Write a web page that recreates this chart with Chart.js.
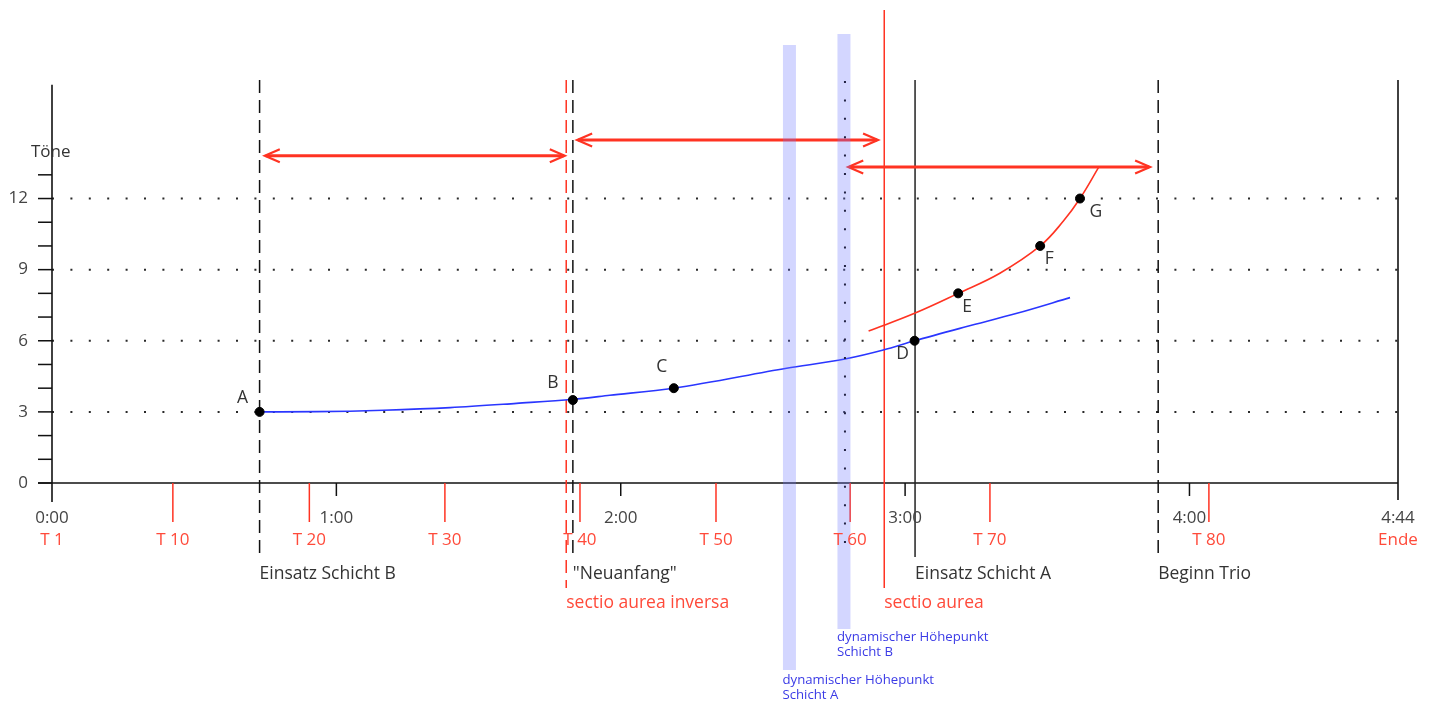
<!DOCTYPE html>
<html>
<head>
<meta charset="utf-8">
<script src="https://cdn.jsdelivr.net/npm/chart.js@4/dist/chart.umd.min.js"></script>
<style>
html,body{margin:0;padding:0;background:#fff;}
#wrap{width:1435px;height:705px;position:relative;}
</style>
</head>
<body>
<div id="wrap"><canvas id="c"></canvas></div>
<script>
// ---- data (seconds on x, Töne on y) ----
const timeTicks = [0, 60, 120, 180, 240, 284];
const timeLabels = ['0:00', '1:00', '2:00', '3:00', '4:00', '4:44'];
const barTicks = [0, 25.5, 54.3, 82.9, 111.4, 140.1, 168.4, 197.9, 244.1, 284];
const barLabels = ['T 1', 'T 10', 'T 20', 'T 30', 'T 40', 'T 50', 'T 60', 'T 70', 'T 80', 'Ende'];
const toneTickLabels = [0, 3, 6, 9, 12];
const toneMinorTicks = [0, 1, 2, 3, 4, 5, 6, 7, 8, 9, 10, 11, 12, 13];

const pointNames = ['A', 'B', 'C', 'D', 'E', 'F', 'G'];
const pointTimes = [43.8, 109.9, 131.2, 182.0, 191.2, 208.5, 216.9];
const pointTones = [3, 3.5, 4, 6, 8, 10, 12];

const blueTimes = [43.8, 55.9, 69.9, 84, 98, 109.9, 117.7, 131.2, 155, 167.3, 175.4, 182.0, 193, 203.6, 214.8];
const blueTones = [3, 3.01, 3.07, 3.18, 3.36, 3.53, 3.7, 4.0, 4.84, 5.23, 5.61, 6.0, 6.6, 7.16, 7.82];

const redTimes = [172.3, 182.0, 191.2, 200, 208.5, 213.4, 216.9, 220.8];
const redTones = [6.41, 7.16, 8.0, 8.85, 10.0, 11.05, 12.0, 13.3];

const eventTimes = [43.8, 109.9, 182.1, 233.4];
const eventLabels = ['Einsatz Schicht B', '"Neuanfang"', 'Einsatz Schicht A', 'Beginn Trio'];
const sectioTimes = [108.5, 175.6];
const sectioLabels = ['sectio aurea inversa', 'sectio aurea'];
const peakTimes = [155.6, 167.1];
const peakLabels = [['dynamischer Höhepunkt', 'Schicht A'], ['dynamischer Höhepunkt', 'Schicht B']];

const arrowFrom = [44.9, 110.8, 168.0];
const arrowTo = [108.2, 174.3, 231.7];
const arrowTones = [13.8, 14.47, 13.33];

const gridTones = [3, 6, 9, 12];

// ---- colours ----
const RED = '#ff3322';
const RED_TXT = '#ff4a3a';
const BLUE = '#2a36ff';
const BLUE_TXT = '#3b3be6';
const GRAY = '#333333';
const FONT = '"Open Sans", "DejaVu Sans", sans-serif';

function pts(xs, ys) { return xs.map((v, i) => ({ x: v, y: ys[i] })); }

function line(ctx, x1, y1, x2, y2, color, w, dash) {
  ctx.save();
  ctx.strokeStyle = color; ctx.lineWidth = w;
  ctx.setLineDash(dash || []);
  ctx.beginPath(); ctx.moveTo(x1, y1); ctx.lineTo(x2, y2); ctx.stroke();
  ctx.restore();
}
function text(ctx, s, x, y, color, size, align) {
  ctx.save();
  ctx.fillStyle = color;
  ctx.font = size + 'px ' + FONT;
  ctx.textAlign = align || 'left';
  ctx.textBaseline = 'middle';
  ctx.fillText(s, x, y);
  ctx.restore();
}
function arrowHead(ctx, tipX, y, dir) {
  ctx.save();
  ctx.strokeStyle = RED; ctx.lineWidth = 2.2; ctx.lineJoin = 'miter';
  ctx.beginPath();
  ctx.moveTo(tipX - dir * 15, y - 6.5);
  ctx.lineTo(tipX, y);
  ctx.lineTo(tipX - dir * 15, y + 6.5);
  ctx.stroke();
  ctx.restore();
}

const decor = {
  id: 'decor',
  beforeDatasetsDraw(chart) {
    const { ctx, scales: { x, y } } = chart;
    const X = v => x.getPixelForValue(v), Y = v => y.getPixelForValue(v);
    const y0 = Y(0), top = Y(17);

    gridTones.forEach(v => line(ctx, X(0), Y(v), X(284), Y(v), '#2a2a2a', 2, [2, 16.4]));

    toneMinorTicks.forEach(v => line(ctx, X(0) - 14, Y(v), X(0), Y(v), '#111', 1.5));
    line(ctx, X(0) - 14, y0, X(284), y0, '#111', 1.6);
    line(ctx, X(0), Y(16.8), X(0), y0 + 19, '#111', 1.6);
    line(ctx, X(284), top, X(284), y0 + 17, '#111', 1.6);

    timeTicks.slice(1, -1).forEach(t => line(ctx, X(t), y0, X(t), y0 + 13, '#111', 1.5));
    barTicks.slice(1, -1).forEach(t => line(ctx, X(t), y0, X(t), y0 + 39, RED, 1.5));

    line(ctx, X(eventTimes[0]), top, X(eventTimes[0]), 555, '#111', 1.5, [13, 7]);
    line(ctx, X(eventTimes[1]), top, X(eventTimes[1]), 555, '#111', 1.5, [13, 7]);
    line(ctx, X(eventTimes[2]), top, X(eventTimes[2]), 557, '#222', 1.5);
    line(ctx, X(eventTimes[3]), top, X(eventTimes[3]), 557, '#111', 1.5, [13, 7]);
    line(ctx, X(sectioTimes[0]), top, X(sectioTimes[0]), 588, RED, 1.5, [13, 7]);
    line(ctx, X(sectioTimes[1]), top - 70, X(sectioTimes[1]), 588, RED, 1.5);
  },
  afterDatasetsDraw(chart) {
    const { ctx, scales: { x, y } } = chart;
    const X = v => x.getPixelForValue(v), Y = v => y.getPixelForValue(v);
    const top = Y(17);

    arrowFrom.forEach((t, i) => {
      const a = X(t), b = X(arrowTo[i]), yy = Y(arrowTones[i]);
      line(ctx, a + 1, yy, b - 1, yy, RED, 3);
      arrowHead(ctx, a, yy, -1);
      arrowHead(ctx, b, yy, 1);
    });

    ctx.save();
    ctx.fillStyle = 'rgba(110,120,255,0.3)';
    ctx.fillRect(X(peakTimes[0]) - 6.5, 45, 13, 625);
    ctx.fillRect(X(peakTimes[1]) - 6.5, 34, 13, 595);
    ctx.restore();
    line(ctx, X(peakTimes[1]) + 1, top + 1, X(peakTimes[1]) + 1, 548, '#222244', 2, [2, 16.4]);

    text(ctx, 'Töne', 31, 152, GRAY, 17, 'left');
    toneTickLabels.forEach(v => text(ctx, String(v), 28, Y(v), '#444', 17, 'right'));
    timeTicks.forEach((t, i) => text(ctx, timeLabels[i], X(t), 518, '#444', 17, 'center'));
    barTicks.forEach((t, i) => text(ctx, barLabels[i], X(t), 540, RED_TXT, 17, 'center'));

    const off = [[-17, -14], [-20, -17], [-12, -21], [-12, 13], [9, 14], [9, 13], [16, 13]];
    pointNames.forEach((n, i) => text(ctx, n, X(pointTimes[i]) + off[i][0], Y(pointTones[i]) + off[i][1], GRAY, 17.5, 'center'));

    eventTimes.forEach((t, i) => text(ctx, eventLabels[i], X(t), 574, GRAY, 17.5, 'left'));
    sectioTimes.forEach((t, i) => text(ctx, sectioLabels[i], X(t), 603, RED_TXT, 17.5, 'left'));
    text(ctx, peakLabels[1][0], X(peakTimes[1]) - 7, 637, BLUE_TXT, 13.2, 'left');
    text(ctx, peakLabels[1][1], X(peakTimes[1]) - 7, 652, BLUE_TXT, 13.2, 'left');
    text(ctx, peakLabels[0][0], X(peakTimes[0]) - 7, 680, BLUE_TXT, 13.2, 'left');
    text(ctx, peakLabels[0][1], X(peakTimes[0]) - 7, 695, BLUE_TXT, 13.2, 'left');
  }
};

new Chart(document.getElementById('c'), {
  type: 'scatter',
  data: {
    datasets: [
      { label: 'Punkte', data: pts(pointTimes, pointTones), backgroundColor: '#000', borderColor: '#000', pointRadius: 4.5, showLine: false },
      { type: 'line', label: 'Schicht B', data: pts(blueTimes, blueTones), borderColor: BLUE, borderWidth: 1.6, pointRadius: 0, fill: false, cubicInterpolationMode: 'monotone' },
      { type: 'line', label: 'Schicht A', data: pts(redTimes, redTones), borderColor: RED, borderWidth: 1.6, pointRadius: 0, fill: false, tension: 0.4 }
    ]
  },
  options: {
    responsive: true,
    maintainAspectRatio: false,
    animation: false,
    layout: { padding: { left: 52, right: 37, top: 80, bottom: 222 } },
    plugins: { legend: { display: false }, tooltip: { enabled: false } },
    scales: {
      x: { type: 'linear', min: 0, max: 284, display: false },
      y: { type: 'linear', min: 0, max: 17, display: false }
    }
  },
  plugins: [decor]
});
</script>
</body>
</html>
